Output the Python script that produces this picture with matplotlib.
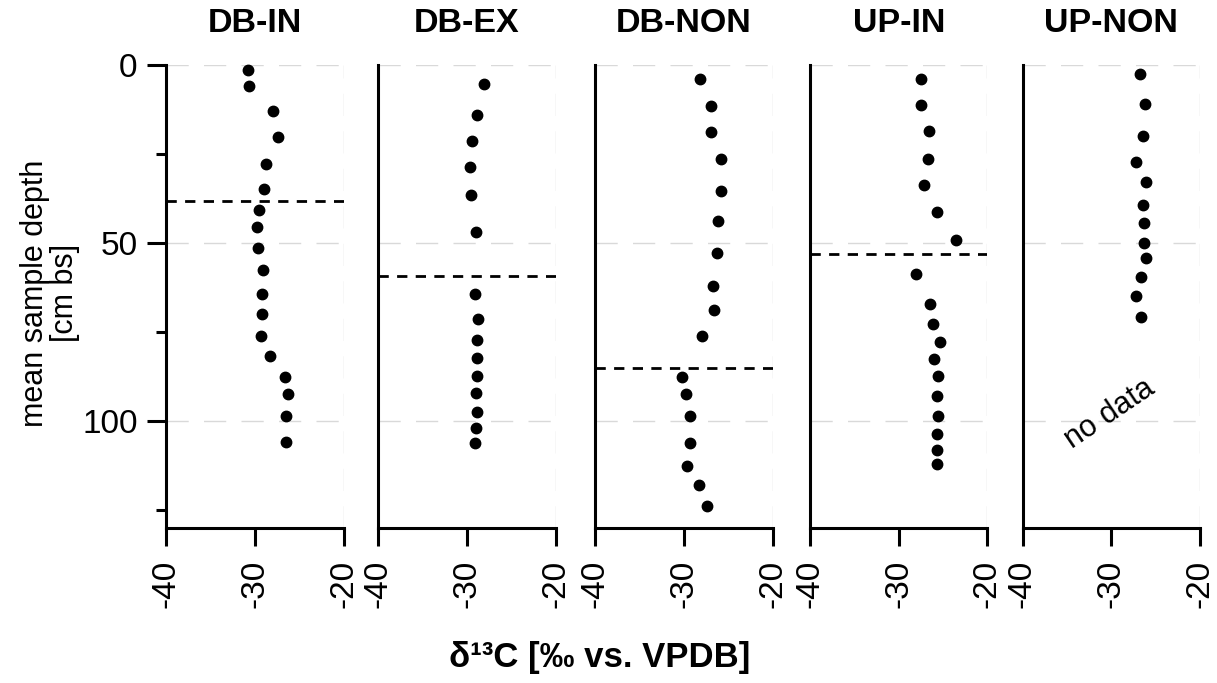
import numpy as np
import matplotlib
matplotlib.use("Agg")
import matplotlib.pyplot as plt

plt.rcParams["font.family"] = ["Liberation Sans", "DejaVu Sans"]
plt.rcParams["font.size"] = 22
plt.rcParams["axes.unicode_minus"] = False

sites = ["DB-IN", "DB-EX", "DB-NON", "UP-IN", "UP-NON"]

# d13C [permil vs. VPDB] and mean sample depth [cm bs]
db_in_d13c = [-30.75, -30.6, -27.9, -27.4, -28.7, -29.0, -29.55, -29.7, -29.6,
              -29.05, -29.2, -29.2, -29.3, -28.3, -26.6, -26.3, -26.45, -26.5]
db_in_depth = [1.4, 5.9, 12.8, 20.3, 27.9, 34.7, 40.8, 45.6, 51.3,
               57.5, 64.2, 70.0, 76.0, 81.8, 87.6, 92.3, 98.5, 105.9]

db_ex_d13c = [-28.1, -28.9, -29.4, -29.65, -29.55, -29.0, -29.1, -28.7,
              -28.9, -28.8, -28.9, -29.0, -28.8, -29.0, -29.1]
db_ex_depth = [5.2, 13.9, 21.2, 28.7, 36.4, 46.9, 64.3, 71.4,
               77.1, 82.4, 87.2, 92.2, 97.3, 102.0, 106.0]

db_non_d13c = [-28.2, -26.9, -26.9, -25.8, -25.8, -26.1, -26.3, -26.75, -26.6,
               -27.9, -30.2, -29.8, -29.35, -29.25, -29.65, -28.3, -27.4]
db_non_depth = [3.9, 11.4, 18.7, 26.3, 35.4, 43.9, 52.7, 62.0, 68.9,
                76.1, 87.5, 92.3, 98.6, 106.0, 112.6, 118.0, 123.9]

up_in_d13c = [-27.45, -27.45, -26.6, -26.7, -27.2, -25.7, -23.6, -28.1, -26.5,
              -26.1, -25.4, -26.0, -25.55, -25.7, -25.55, -25.7, -25.7, -25.7]
up_in_depth = [3.8, 11.2, 18.6, 26.3, 33.7, 41.4, 49.1, 58.6, 67.1,
               72.7, 77.7, 82.6, 87.3, 93.0, 98.6, 103.7, 108.0, 112.1]

up_non_d13c = [-26.8, -26.2, -26.4, -27.2, -26.1, -26.4, -26.3, -26.3,
               -26.1, -26.6, -27.2, -26.7]
up_non_depth = [2.5, 11.0, 20.0, 27.2, 32.9, 39.4, 44.5, 50.0,
                54.1, 59.6, 64.9, 70.8]

boundary_depth = [38.1, 59.2, 85.0, 53.0, None]

d13c = [db_in_d13c, db_ex_d13c, db_non_d13c, up_in_d13c, up_non_d13c]
depth = [db_in_depth, db_ex_depth, db_non_depth, up_in_depth, up_non_depth]

W, H = 1217, 683
fig = plt.figure(figsize=(W / 100, H / 100), dpi=100)

lefts = [166, 378, 595, 810, 1022.5]
width = 177.5
top_px, bot_px = 65, 528

grid_kw = dict(color="#d9d9d9", lw=1, ls=(0, (16, 11)), zorder=0)

for i, name in enumerate(sites):
    ax = fig.add_axes([lefts[i] / W, 1 - bot_px / H, width / W, (bot_px - top_px) / H])
    ax.set_xlim(-40, -20)
    ax.set_ylim(130, 0)
    for s in ["top", "right"]:
        ax.spines[s].set_visible(False)
    for s in ["left", "bottom"]:
        ax.spines[s].set_linewidth(2.2)

    for g in [0, 50, 100]:
        ax.axhline(g, **grid_kw)
    ax.axvline(-20, **grid_kw)

    ax.plot(d13c[i], depth[i], "o", color="black", ms=7.5, zorder=3, clip_on=False)
    if boundary_depth[i] is not None:
        ax.axhline(boundary_depth[i], color="black", lw=2, ls=(0, (3.7, 3)), zorder=2)

    ax.set_xticks([-40, -30, -20])
    ax.tick_params(axis="x", length=13, width=2.2, pad=10, labelrotation=90,
                   labelsize=24)

    if i == 0:
        ax.set_yticks([0, 50, 100])
        ax.set_yticks([25, 75, 125], minor=True)
        ax.tick_params(axis="y", which="major", length=13.5, width=2.2, pad=7,
                       labelsize=24)
        ax.tick_params(axis="y", which="minor", length=7, width=2.2)
    else:
        ax.set_yticks([])

    ax.text(0.5, 1 + (top_px - 23) / (bot_px - top_px), name, transform=ax.transAxes,
            ha="center", va="center", fontsize=24.5, fontweight="bold")

    if name == "UP-NON":
        ax.text(-30.2, 98, "no data", rotation=34, ha="center", va="center",
                fontsize=22)

fig.text(50 / W, 1 - 293 / H, "mean sample depth\n[cm bs]", rotation=90,
         ha="center", va="center", multialignment="center", linespacing=1.0)
fig.text(600 / W, 1 - 658 / H, "δ¹³C [‰ vs. VPDB]", ha="center", va="center",
         fontweight="bold", fontsize=25)

fig.savefig("out.png", dpi=100)
